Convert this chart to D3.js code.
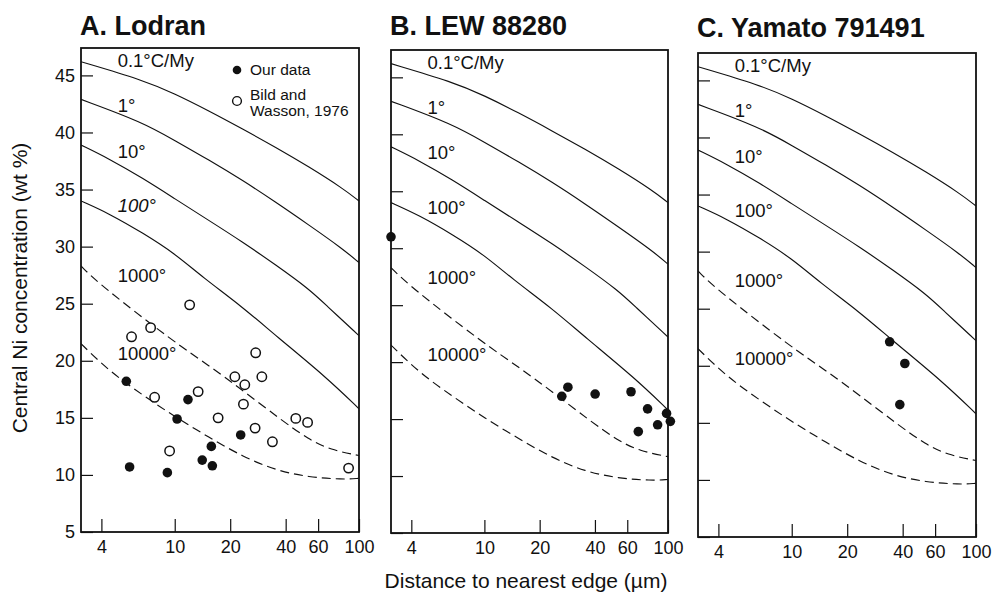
<!DOCTYPE html>
<html>
<head>
<meta charset="UTF-8"/>
<title>Central Ni concentration vs distance to nearest edge</title>
<style>
  body { margin: 0; background: #fff; }
  svg { display: block; }
  text { font-family: "Liberation Sans", Arial, Helvetica, sans-serif; fill: #111; }
  .title { font-size: 27px; font-weight: bold; }
  .tick text { font-size: 18px; }
  .tick line { stroke: #111; stroke-width: 1.2; }
  .frame { fill: none; stroke: #111; stroke-width: 1.8; }
  .curve { fill: none; stroke: #111; stroke-width: 1.15; }
  .curve.dash { stroke-dasharray: 9 5; }
  .rate { font-size: 18.5px; }
  .legend { font-size: 15.5px; }
  .axislabel { font-size: 21px; }
</style>
</head>
<body>
<svg width="992" height="594"></svg>
<script src="https://d3js.org/d3.v7.min.js"></script>
<script>
// ---- data ----
const panelTitles = ['A. Lodran', 'B. LEW 88280', 'C. Yamato 791491'];
const xTicks = [4, 10, 20, 40, 60, 100];
const yTicks = [5, 10, 15, 20, 25, 30, 35, 40, 45];

// cooling-rate curves, [distance um, Ni wt%]
const rateLabels = ['0.1°C/My', '1°', '10°', '100°', '1000°', '10000°'];
const rateLabelY = [45.7, 41.8, 37.8, 33.0, 26.9, 20.1];
const rateDashed = [false, false, false, false, true, true];
const curve01 = [[3.1, 46.2], [6.7, 44.6], [10, 43.4], [15.3, 41.9], [23.4, 40.3], [35.3, 38.7], [53.4, 37.0], [81.7, 35.1], [100, 34.0]];
const curve1 = [[3.1, 42.9], [6.7, 40.9], [10, 39.3], [15.3, 37.6], [23.4, 35.8], [35.3, 33.9], [53.4, 31.9], [81.7, 29.8], [100, 28.6]];
const curve10 = [[3.1, 38.9], [4.4, 37.7], [6.7, 36.0], [10, 34.2], [15.3, 32.3], [23.4, 30.4], [35.3, 28.4], [53.4, 26.3], [66, 24.9], [100, 22.2]];
const curve100 = [[3.1, 34.0], [4.4, 32.9], [6.7, 31.2], [10, 29.4], [14.2, 27.3], [23.4, 24.7], [35.3, 22.2], [66, 18.6], [100, 15.8]];
const curve1000 = [[3.1, 28.3], [3.9, 26.7], [10, 21.6], [15.3, 19.6], [23.4, 17.4], [38, 14.8], [53.4, 13.1], [70, 12.2], [100, 11.7]];
const curve10000 = [[3.1, 21.5], [4.4, 19.1], [6.7, 17.0], [10, 15.1], [15.3, 13.3], [23.4, 11.6], [35.3, 10.4], [53.4, 9.8], [81.7, 9.6], [100, 9.7]];
const curves = [curve01, curve1, curve10, curve100, curve1000, curve10000];

// measured points, [distance um, Ni wt%]
const lodranOurs = [[5.46, 18.2], [11.8, 16.6], [10.3, 14.9], [22.8, 13.5], [15.8, 12.5], [14.1, 11.3], [16.0, 10.8], [5.69, 10.7], [9.12, 10.2]];
const lodranBild = [[12.05, 24.9], [7.4, 22.9], [5.83, 22.1], [27.5, 20.7], [21.2, 18.6], [29.7, 18.6], [24.0, 17.9], [13.4, 17.3], [7.78, 16.8], [23.6, 16.2], [17.2, 15.0], [45.4, 14.95], [52.6, 14.6], [27.3, 14.1], [33.9, 12.9], [9.38, 12.1], [87.8, 10.6]];
const lewOurs = [[3.1, 31.0], [28.5, 17.8], [26.4, 17.0], [40.1, 17.2], [62.9, 17.4], [77.4, 15.9], [98.2, 15.5], [87.8, 14.5], [103, 14.8], [68.9, 13.9]];
const yamatoOurs = [[34.0, 22.1], [41.1, 20.2], [38.6, 16.6]];

const legendLabels = [['Our data'], ['Bild and', 'Wasson, 1976']];

// ---- layout ----
const panels = [
  { left: 81, right: 359, top: 48, bottom: 532, ours: lodranOurs, bild: lodranBild, titleY: 35 },
  { left: 391, right: 668, top: 50, bottom: 533, ours: lewOurs, bild: [], titleY: 35 },
  { left: 698, right: 976, top: 53, bottom: 537, ours: yamatoOurs, bild: [], titleY: 37 }
];

const svg = d3.select('svg');

panels.forEach((p, i) => {
  const x = d3.scaleLog().domain([3.1, 100]).range([p.left, p.right]);
  const y = d3.scaleLinear().domain([5, 47.4]).range([p.bottom, p.top]);
  const g = svg.append('g');

  g.append('clipPath').attr('id', 'clip' + i)
    .append('rect')
    .attr('x', p.left).attr('y', p.top)
    .attr('width', p.right - p.left).attr('height', p.bottom - p.top);

  // title
  g.append('text')
    .attr('class', 'title')
    .attr('x', p.left - 1)
    .attr('y', p.titleY)
    .text(panelTitles[i]);

  // y axis, ticks inside
  const yAxis = d3.axisLeft(y)
    .tickValues(yTicks)
    .tickSize(-12)
    .tickPadding(6)
    .tickFormat(i === 0 ? d3.format('d') : '');
  g.append('g')
    .attr('transform', `translate(${p.left},0)`)
    .call(yAxis)
    .call(a => a.select('.domain').remove());

  // x axis, ticks inside
  const xAxis = d3.axisBottom(x)
    .tickValues(xTicks)
    .tickSize(-13)
    .tickPadding(8)
    .tickFormat(d3.format('d'));
  g.append('g')
    .attr('transform', `translate(0,${p.bottom})`)
    .call(xAxis)
    .call(a => a.select('.domain').remove());

  g.selectAll('.tick text').attr('font-family', '"Liberation Sans", Arial, sans-serif').attr('fill', '#111');

  // cooling curves
  const line = d3.line()
    .x(d => x(d[0]))
    .y(d => y(d[1]))
    .curve(d3.curveBasis);
  g.append('g')
    .attr('clip-path', `url(#clip${i})`)
    .selectAll('path')
    .data(curves)
    .join('path')
    .attr('class', (d, k) => rateDashed[k] ? 'curve dash' : 'curve')
    .attr('d', line);

  // curve labels
  g.selectAll('text.rate')
    .data(rateLabels)
    .join('text')
    .attr('class', 'rate')
    .attr('x', x(4.9))
    .attr('y', (d, k) => y(rateLabelY[k]))
    .attr('font-style', (d, k) => (i === 0 && k === 3) ? 'italic' : null)
    .text(d => d);

  // frame
  g.append('rect')
    .attr('class', 'frame')
    .attr('x', p.left).attr('y', p.top)
    .attr('width', p.right - p.left).attr('height', p.bottom - p.top);

  // points
  g.selectAll('circle.bild')
    .data(p.bild)
    .join('circle')
    .attr('class', 'bild')
    .attr('cx', d => x(d[0]))
    .attr('cy', d => y(d[1]))
    .attr('r', 4.7)
    .attr('fill', '#fff')
    .attr('stroke', '#111')
    .attr('stroke-width', 1.5);
  g.selectAll('circle.ours')
    .data(p.ours)
    .join('circle')
    .attr('class', 'ours')
    .attr('cx', d => x(d[0]))
    .attr('cy', d => y(d[1]))
    .attr('r', 4.8)
    .attr('fill', '#111');

  // legend in panel A
  if (i === 0) {
    const lg = g.append('g');
    lg.append('circle').attr('cx', 237).attr('cy', 70).attr('r', 4.3).attr('fill', '#111');
    lg.append('circle').attr('cx', 237).attr('cy', 101).attr('r', 4.4)
      .attr('fill', '#fff').attr('stroke', '#111').attr('stroke-width', 1.4);
    lg.append('text').attr('class', 'legend').attr('x', 250).attr('y', 75).text(legendLabels[0][0]);
    lg.append('text').attr('class', 'legend').attr('x', 250).attr('y', 100).text(legendLabels[1][0]);
    lg.append('text').attr('class', 'legend').attr('x', 250).attr('y', 115.5).text(legendLabels[1][1]);
  }
});

// axis titles
svg.append('text')
  .attr('class', 'axislabel')
  .attr('transform', 'translate(27,288) rotate(-90)')
  .attr('text-anchor', 'middle')
  .text('Central Ni concentration (wt %)');

svg.append('text')
  .attr('class', 'axislabel')
  .attr('x', 526)
  .attr('y', 588)
  .attr('text-anchor', 'middle')
  .text('Distance to nearest edge (µm)');
</script>
</body>
</html>
